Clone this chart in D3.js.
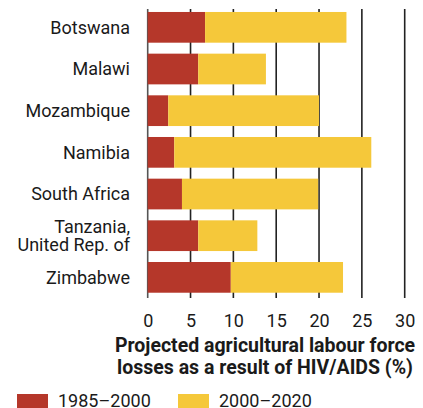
<!DOCTYPE html>
<html><head><meta charset="utf-8">
<script src="https://cdn.jsdelivr.net/npm/d3@7"></script>
<style>body{margin:0;background:#fff}svg{display:block}text{font-family:Roboto,"Noto Sans",sans-serif}</style>
</head><body>
<script>
const categories = [["Botswana"],["Malawi"],["Mozambique"],["Namibia"],["South Africa"],["Tanzania,","United Rep. of"],["Zimbabwe"]];
const names = ["Botswana","Malawi","Mozambique","Namibia","South Africa","Tanzania, United Rep. of","Zimbabwe"];
const series1985 = [6.7, 5.9, 2.4, 3.1, 4.0, 5.9, 9.7];
const series2000 = [16.5, 7.9, 17.6, 23.0, 15.9, 6.9, 13.1];
const seriesNames = ["1985–2000", "2000–2020"];
const colors = ["#b5372a", "#f5c83a"];
const xTicks = [0, 5, 10, 15, 20, 25, 30];
const axisTitle = ["Projected agricultural labour force", "losses as a result of HIV/AIDS (%)"];

const W = 423, H = 408;
const svg = d3.select("body").append("svg").attr("width", W).attr("height", H);
const x = d3.scaleLinear().domain([0, 30]).range([147.7, 404.7]);
const y = d3.scaleBand().domain(names).range([6.5, 298.2]).paddingInner(0.263).paddingOuter(0.1315);

// gridlines
svg.append("g").selectAll("line").data(xTicks).join("line")
  .attr("x1", d => x(d)).attr("x2", d => x(d)).attr("y1", 9).attr("y2", 298)
  .attr("stroke", d => d === 0 ? "#555" : "#222").attr("stroke-width", 1.6);

const data = names.map((n, i) => ({name: n, a: series1985[i], b: series2000[i]}));
const stack = d3.stack().keys(["a", "b"])(data);
svg.append("g").selectAll("g").data(stack).join("g").attr("fill", (d, i) => colors[i])
  .selectAll("rect").data(d => d).join("rect")
  .attr("x", d => x(d[0])).attr("width", d => x(d[1]) - x(d[0]))
  .attr("y", d => y(d.data.name)).attr("height", y.bandwidth());

// category labels
const lab = svg.append("g").selectAll("text").data(names).join("text")
  .attr("text-anchor", "end").attr("font-size", 18).attr("fill", "#1a1a1a")
  .attr("x", 130).attr("y", d => y(d) + y.bandwidth() / 2);
lab.each(function(d, i) {
  const lines = categories[i];
  const t = d3.select(this);
  lines.forEach((l, j) => {
    t.append("tspan").attr("x", 130)
      .attr("dy", j === 0 ? (lines.length === 1 ? "0.35em" : (0.35 - 0.5) + "em") : "1em")
      .text(l);
  });
});

// x axis tick labels
const xAxis = d3.axisBottom(x).tickValues(xTicks).tickSize(0).tickPadding(0);
const gx = svg.append("g").attr("transform", "translate(0,314)").call(xAxis);
gx.select(".domain").remove();
gx.selectAll("text").attr("font-size", 18).attr("fill", "#1a1a1a").attr("font-family", "Roboto,'Noto Sans',sans-serif");

// axis title
svg.append("g").selectAll("text").data(axisTitle).join("text")
  .attr("x", 265).attr("y", (d, i) => 352 + i * 22.3).attr("text-anchor", "middle")
  .attr("font-size", 19.5).attr("font-weight", "bold").attr("fill", "#1a1a1a").text(d => d);

// legend
const leg = svg.append("g").selectAll("g").data(seriesNames).join("g")
  .attr("transform", (d, i) => `translate(${[17, 178][i]},394)`);
leg.append("rect").attr("width", 31).attr("height", 15).attr("fill", (d, i) => colors[i]);
leg.append("text").attr("x", 41).attr("y", 13).attr("font-size", 18).attr("fill", "#1a1a1a").text(d => d);
</script>
</body></html>
